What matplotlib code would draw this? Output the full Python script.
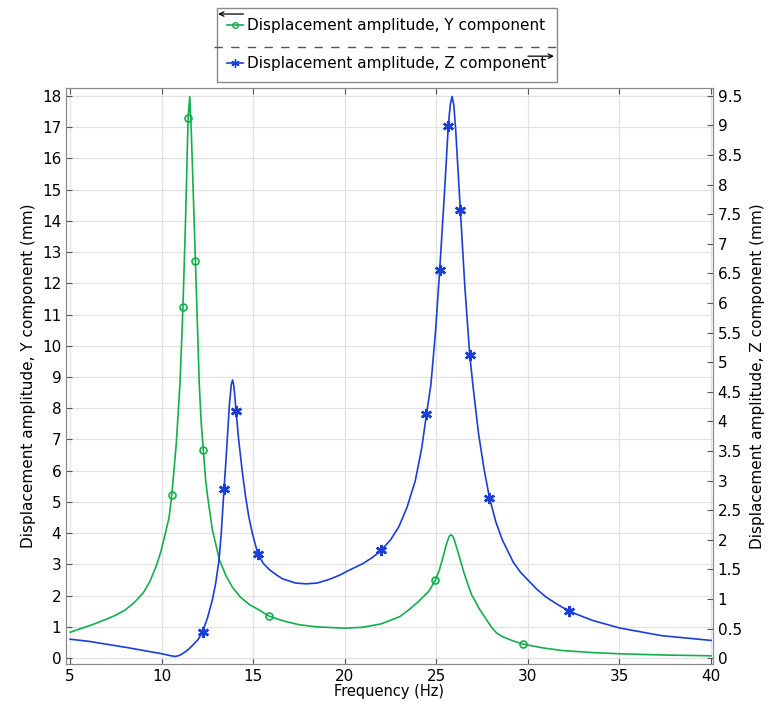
import matplotlib
matplotlib.use("Agg")
import matplotlib.pyplot as plt
from matplotlib.lines import Line2D
from matplotlib.patches import FancyArrowPatch
from matplotlib.ticker import MultipleLocator, FuncFormatter

# Y component (left axis, mm)
freq_y = [5.0, 6.2, 7.0, 7.5, 8.0, 8.5, 9.0, 9.35, 9.7, 9.95, 10.2, 10.4, 10.55, 10.8, 11.0,
          11.16, 11.3, 11.44, 11.53, 11.62, 11.7, 11.84, 12.05, 12.15, 12.27, 12.4, 12.5,
          12.77, 13.15, 13.5, 13.85, 14.3, 14.8, 15.3, 15.85, 16.6, 17.5, 18.5, 20.0, 21.0,
          22.0, 23.0, 23.5, 24.0, 24.6, 24.95, 25.15, 25.3, 25.55, 25.7, 25.8, 25.9, 26.0,
          26.2, 26.35, 26.5, 26.76, 26.95, 27.1, 27.3, 27.5, 28.0, 28.3, 28.6, 29.2, 29.73,
          30.8, 31.85, 33.5, 35.0, 37.5, 40.0]
amp_y = [0.83, 1.07, 1.25, 1.38, 1.54, 1.78, 2.1, 2.45, 2.95, 3.4, 4.0, 4.5, 5.21, 6.9, 8.8,
         11.25, 14.0, 17.28, 17.98, 16.8, 15.3, 12.71, 8.8, 7.6, 6.67, 5.7, 5.2,
         4.1, 3.15, 2.65, 2.28, 1.95, 1.71, 1.55, 1.35, 1.2, 1.07, 1.0, 0.96, 0.99,
         1.1, 1.33, 1.55, 1.8, 2.15, 2.51, 2.8, 3.1, 3.65, 3.9, 3.95, 3.9, 3.75,
         3.36, 3.05, 2.75, 2.29, 2.0, 1.85, 1.62, 1.44, 1.0, 0.8, 0.69, 0.55, 0.45,
         0.33, 0.245, 0.18, 0.14, 0.1, 0.075]
mark_fy = [10.56, 11.16, 11.45, 11.84, 12.27, 15.85, 24.95, 29.73]
mark_y = [5.21, 11.24, 17.28, 12.71, 6.67, 1.35, 2.51, 0.45]

# Z component (right axis, mm)
freq_z = [5.0, 6.0, 7.0, 8.0, 9.0, 10.0, 10.5, 10.75, 11.0, 11.3, 11.5, 11.7, 12.0, 12.22,
          12.5, 12.77, 12.95, 13.13, 13.25, 13.4, 13.5, 13.6, 13.7, 13.8, 13.87, 13.93, 14.0,
          14.06, 14.2, 14.4, 14.58, 14.75, 14.95, 15.25, 15.55, 15.9, 16.3, 16.6, 17.3, 17.9,
          18.5, 19.15, 19.7, 20.2, 20.6, 21.0, 21.5, 21.95, 22.5, 22.95, 23.4, 23.85, 24.2,
          24.46, 24.7, 24.95, 25.18, 25.45, 25.65, 25.76, 25.86, 25.95, 26.05, 26.31, 26.55,
          26.82, 27.0, 27.3, 27.6, 27.9, 28.25, 28.6, 29.2, 29.6, 30.0, 30.5, 31.0, 31.6,
          32.27, 33.5, 35.0, 37.3, 40.0]
amp_z = [0.32, 0.285, 0.235, 0.185, 0.13, 0.075, 0.04, 0.028, 0.05, 0.11, 0.16, 0.22, 0.32, 0.44,
         0.68, 0.99, 1.27, 1.66, 2.1, 2.85, 3.3, 3.8, 4.3, 4.62, 4.70, 4.62, 4.4,
         4.17, 3.7, 3.15, 2.73, 2.4, 2.11, 1.76, 1.6, 1.49, 1.4, 1.34, 1.27, 1.255,
         1.27, 1.33, 1.4, 1.48, 1.54, 1.6, 1.7, 1.81, 2.0, 2.22, 2.55, 3.0, 3.55,
         4.12, 4.62, 5.5, 6.55, 7.9, 8.99, 9.35, 9.49, 9.35, 8.95, 7.57, 6.3,
         5.13, 4.6, 3.8, 3.2, 2.71, 2.3, 2.0, 1.62, 1.45, 1.32, 1.16, 1.03, 0.91,
         0.79, 0.64, 0.51, 0.38, 0.30]
mark_fz = [12.24, 13.42, 14.06, 15.25, 21.95, 24.46, 25.18, 25.65, 26.31, 26.82, 27.9, 32.27]
mark_z = [0.44, 2.85, 4.17, 1.76, 1.82, 4.12, 6.55, 8.99, 7.57, 5.13, 2.71, 0.79]

green = '#12b04c'
blue = '#1a3fd6'
star = (6, 2, 0)

fig = plt.figure(figsize=(7.69, 7.02), dpi=100)
ax = fig.add_axes([0.086, 0.054, 0.841, 0.821])
ax2 = ax.twinx()

ax.plot(freq_y, amp_y, color=green, lw=1.2)
ax.plot(mark_fy, mark_y, ls='none', marker='o', mfc='none', mec=green, ms=5, mew=1.2)
ax2.plot(freq_z, amp_z, color=blue, lw=1.2)
ax2.plot(mark_fz, mark_z, ls='none', marker=star, color=blue, ms=8, mew=1.8)

ax.set_xlim(4.78, 40.1)
ax.set_ylim(-0.19, 18.26)
ax2.set_ylim(-0.19 * 9.5 / 18, 18.26 * 9.5 / 18)

ax.xaxis.set_major_locator(MultipleLocator(5))
ax.yaxis.set_major_locator(MultipleLocator(1))
ax2.yaxis.set_major_locator(MultipleLocator(0.5))
ax2.yaxis.set_major_formatter(FuncFormatter(lambda v, p: '%g' % v))

ax.grid(True, color='#e2e2e2', lw=0.9)
ax.set_axisbelow(True)
ax.tick_params(direction='in', labelsize=11, top=True, length=4, color='#555555')
ax2.tick_params(direction='in', labelsize=11, length=4, color='#555555')
for a in (ax, ax2):
    for s in a.spines.values():
        s.set_color('#8a8a8a')

ax.set_xlabel('Frequency (Hz)', fontsize=10.5, labelpad=0)
ax.set_ylabel('Displacement amplitude, Y component (mm)', fontsize=11, labelpad=4)
ax2.set_ylabel('Displacement amplitude, Z component (mm)', fontsize=11, labelpad=6)

handles = [Line2D([], [], color=green, marker='o', mfc='none', ms=4, lw=1.2),
           Line2D([], [], color=blue, marker=star, ms=6, lw=1.2)]
labels = ['Displacement amplitude, Y component', 'Displacement amplitude, Z component']
leg = fig.legend(handles, labels, loc='upper center', bbox_to_anchor=(0.503, 0.989),
                 fontsize=11, labelspacing=1.5, handlelength=1.0, handletextpad=0.3,
                 fancybox=False, edgecolor='#8a8a8a', framealpha=1, borderpad=0.7,
                 borderaxespad=0)

# arrows and separator inside legend box
fig.add_artist(Line2D([0.278, 0.728], [0.933, 0.933], color='#555555', lw=1.0,
                      ls=(0, (6, 6)), transform=fig.transFigure, zorder=10))
fig.add_artist(FancyArrowPatch((0.320, 0.980), (0.280, 0.980), transform=fig.transFigure,
                               arrowstyle='->', mutation_scale=8, color='black', lw=0.9,
                               zorder=10))
fig.add_artist(FancyArrowPatch((0.683, 0.920), (0.724, 0.920), transform=fig.transFigure,
                               arrowstyle='->', mutation_scale=8, color='black', lw=0.9,
                               zorder=10))

fig.savefig('out.png', dpi=100)
